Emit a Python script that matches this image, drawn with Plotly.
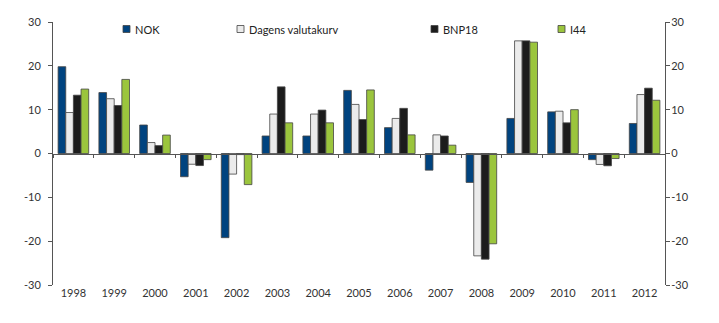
import plotly.graph_objects as go

# Annual change per basket, percent
years = ["1998", "1999", "2000", "2001", "2002", "2003", "2004", "2005",
         "2006", "2007", "2008", "2009", "2010", "2011", "2012"]
nok = [19.8, 13.9, 6.5, -5.3, -19.2, 4.0, 4.0, 14.4, 5.9, -3.8, -6.6, 8.0, 9.5, -1.4, 6.85]
dagens = [9.35, 12.5, 2.5, -2.45, -4.7, 9.0, 9.0, 11.2, 8.0, 4.25, -23.35, 25.7, 9.65, -2.5, 13.45]
bnp18 = [13.3, 10.95, 1.8, -2.75, -0.25, 15.2, 9.9, 7.75, 10.3, 4.0, -24.1, 25.7, 7.0, -2.8, 14.9]
i44 = [14.7, 16.9, 4.2, -1.4, -7.1, 7.0, 7.0, 14.5, 4.25, 1.9, -20.6, 25.4, 10.0, -1.15, 12.15]

series_names = ["NOK", "Dagens valutakurv", "BNP18", "I44"]
series_values = [nok, dagens, bnp18, i44]
series_colors = ["#00437f", "#ebebeb", "#1c1c1c", "#9bc53d"]

y_ticks = [-30, -20, -10, 0, 10, 20, 30]
y_ticktext = [str(v) for v in y_ticks]  # plain hyphen for negatives

FONT = "Lato"
AXIS_COLOR = "#555555"
TEXT_COLOR = "#333333"

fig = go.Figure()
for name, vals, col in zip(series_names, series_values, series_colors):
    fig.add_trace(go.Bar(
        x=years, y=vals, name=name,
        marker=dict(color=col, line=dict(color="#444444", width=0.8)),
        showlegend=False,
    ))

# carrier trace for the label axis and the right-hand value axis
fig.add_trace(go.Scatter(x=[], y=[], xaxis="x2", yaxis="y2",
                         showlegend=False, hoverinfo="skip"))

fig.update_layout(
    width=719, height=323,
    margin=dict(l=53, r=54, t=22, b=38),
    paper_bgcolor="white", plot_bgcolor="white",
    barmode="group", bargap=0.25, bargroupgap=0,
    font=dict(family=FONT, size=11, color=TEXT_COLOR),
    xaxis=dict(
        type="category", anchor="free", position=0.5,
        showline=True, linecolor=AXIS_COLOR, linewidth=1,
        ticks="outside", ticklen=3, tickcolor=AXIS_COLOR,
        tickson="boundaries", showticklabels=False,
        showgrid=False, zeroline=False,
    ),
    xaxis2=dict(
        overlaying="x", anchor="y", side="bottom",
        range=[-0.5, len(years) - 0.5],
        tickmode="array", tickvals=list(range(len(years))), ticktext=years,
        ticks="", showline=False, showgrid=False, zeroline=False,
        tickfont=dict(family=FONT, size=11, color=TEXT_COLOR),
    ),
    yaxis=dict(
        range=[-30, 30], tickmode="array", tickvals=y_ticks, ticktext=y_ticktext,
        showline=True, linecolor=AXIS_COLOR, linewidth=1,
        ticks="outside", ticklen=4, tickcolor=AXIS_COLOR,
        showgrid=False, zeroline=False, ticklabelstandoff=5,
        tickfont=dict(family=FONT, size=11, color=TEXT_COLOR),
    ),
    yaxis2=dict(
        overlaying="y", side="right", anchor="x2",
        range=[-30, 30], tickmode="array", tickvals=y_ticks, ticktext=y_ticktext,
        showline=True, linecolor=AXIS_COLOR, linewidth=1,
        ticks="outside", ticklen=4, tickcolor=AXIS_COLOR,
        showgrid=False, zeroline=False, ticklabelstandoff=-1,
        tickfont=dict(family=FONT, size=11, color=TEXT_COLOR),
    ),
)

# Legend row along the top of the plot area (pixel positions converted to paper)
plot_left, plot_w, plot_bottom, plot_h = 53, 612, 285, 263
legend_px = [123, 237, 431, 558]
legend_py = 29
def px_x(p):
    return (p - plot_left) / plot_w
def px_y(p):
    return (plot_bottom - p) / plot_h

for name, col, lx in zip(series_names, series_colors, legend_px):
    fig.add_shape(type="rect", xref="paper", yref="paper",
                  x0=px_x(lx), x1=px_x(lx + 7),
                  y0=px_y(legend_py + 3.5), y1=px_y(legend_py - 3.5),
                  fillcolor=col, line=dict(color="#444444", width=0.8))
    fig.add_annotation(xref="paper", yref="paper", x=px_x(lx + 10), y=px_y(legend_py),
                       text=name, showarrow=False, xanchor="left", yanchor="middle",
                       font=dict(family=FONT, size=11, color="#222222"))

fig.write_html("out.html")
